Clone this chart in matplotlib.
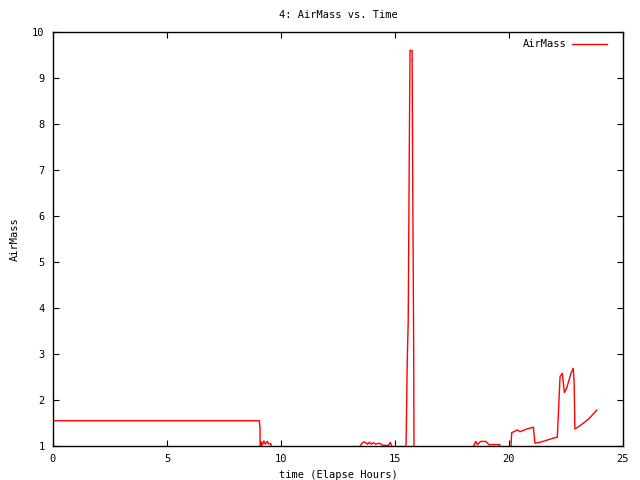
"""AirMass vs. elapsed time, gnuplot-style."""

import matplotlib
matplotlib.use("Agg")
import matplotlib.pyplot as plt

# elapsed hours and airmass; values below 1 are off-scale (clipped by ylim)
time_h = [0.0, 9.05, 9.08, 9.10, 9.14, 9.19, 9.25, 9.32, 9.40, 9.47, 9.55,
          9.62, 9.70, 13.45, 13.47, 13.55, 13.65, 13.72, 13.80, 13.88, 13.96,
          14.05, 14.15, 14.28, 14.36, 14.45, 14.70, 14.80, 14.85, 14.90,
          15.45, 15.50, 15.54, 15.58, 15.63, 15.66, 15.75, 15.77, 15.82,
          15.84, 18.40, 18.45, 18.54, 18.62, 18.75, 18.99, 19.12, 19.60,
          19.62, 20.05, 20.09, 20.12, 20.38, 20.48, 20.78, 21.07, 21.14,
          21.36, 21.94, 22.12, 22.24, 22.34, 22.43, 22.53, 22.72, 22.82,
          22.86, 22.89, 23.11, 23.48, 23.85]
airmass = [1.55, 1.55, 1.40, 0.0, 1.09, 1.03, 1.11, 1.04, 1.10, 1.04, 1.05,
           0.95, 0.0, 0.0, 1.0, 1.06, 1.09, 1.07, 1.04, 1.08, 1.04,
           1.07, 1.04, 1.06, 1.05, 1.02, 1.01, 1.08, 1.0, 0.0,
           0.0, 1.5, 2.9, 3.7, 7.6, 9.6, 9.6, 7.5, 3.1,
           0.0, 0.0, 1.0, 1.10, 1.03, 1.10, 1.10, 1.03, 1.03,
           0.0, 0.0, 1.0, 1.29, 1.35, 1.31, 1.37, 1.41, 1.06,
           1.08, 1.17, 1.19, 2.51, 2.58, 2.16, 2.26, 2.58, 2.69,
           2.37, 1.37, 1.44, 1.58, 1.78]

x_ticks = [0, 5, 10, 15, 20, 25]
y_ticks = [1, 2, 3, 4, 5, 6, 7, 8, 9, 10]

FONT = "DejaVu Sans Mono"
FS = 7.5


def main():
    fig = plt.figure(figsize=(6.4, 4.8), dpi=100)
    ax = fig.add_axes([0.0828, 0.0708, 0.8906, 0.8625])

    ax.plot(time_h, airmass, color="red", lw=1.0, label="AirMass")

    ax.set_xlim(0, 25)
    ax.set_ylim(1, 10)
    ax.set_xticks(x_ticks)
    ax.set_yticks(y_ticks)
    ax.tick_params(direction="in", length=4, width=0.8, top=True, right=True,
                   labelsize=FS, pad=6)
    for lab in ax.get_xticklabels() + ax.get_yticklabels():
        lab.set_family(FONT)
    for sp in ax.spines.values():
        sp.set_linewidth(1.0)

    ax.set_title("4: AirMass vs. Time", family=FONT, fontsize=FS, pad=10)
    ax.set_xlabel("time (Elapse Hours)", family=FONT, fontsize=FS, labelpad=4)
    ax.set_ylabel("AirMass", family=FONT, fontsize=FS, labelpad=9)

    ax.legend(loc="upper right", bbox_to_anchor=(0.984, 1.0), frameon=False,
              markerfirst=False, prop={"family": FONT, "size": FS},
              handlelength=3.3, handletextpad=0.5, borderaxespad=0.3)

    fig.savefig("out.png", dpi=100)
    plt.close(fig)


if __name__ == "__main__":
    main()
